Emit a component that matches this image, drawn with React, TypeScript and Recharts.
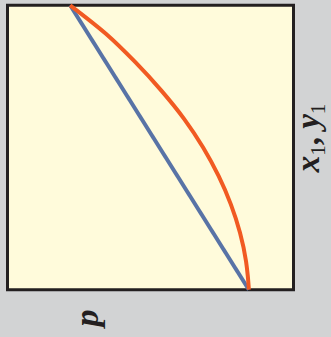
import { LineChart, Line, XAxis, YAxis, ReferenceArea, Customized } from "recharts";

// rotated p–x–y diagram: p runs right-to-left, mole fraction bottom-to-top
const bubbleX1 = [0, 1];
const bubbleP = [0.156, 0.781];

const dewY1 = [0, 0.05, 0.1, 0.2, 0.3, 0.4, 0.5, 0.6, 0.7, 0.8, 0.9, 1];
const dewP = [0.156, 0.16, 0.166, 0.187, 0.219, 0.262, 0.316, 0.382, 0.462, 0.553, 0.656, 0.781];

const bubbleData = bubbleX1.map((v, i) => ({ x1: v, p: bubbleP[i] }));
const dewData = dewY1.map((v, i) => ({ x1: v, p: dewP[i] }));

const W = 331;
const H = 337;

const labelFont = "'Liberation Serif', 'DejaVu Serif', serif";

function AxisLabels() {
  return (
    <g fill="#231f20" fontFamily={labelFont}>
      <text transform="translate(319,138) rotate(-90)" textAnchor="middle">
        <tspan fontSize={33} fontWeight="bold" fontStyle="italic">x</tspan>
        <tspan fontSize={21} dy={6}>1</tspan>
        <tspan fontSize={33} dy={-6} fontWeight="bold">, </tspan>
        <tspan fontSize={33} fontWeight="bold" fontStyle="italic">y</tspan>
        <tspan fontSize={21} dy={6}>1</tspan>
      </text>
      <text
        transform="translate(98,318) rotate(-90)"
        textAnchor="middle"
        fontSize={34}
        fontWeight="bold"
        fontStyle="italic"
      >
        p
      </text>
    </g>
  );
}

export default function App() {
  return (
    <div style={{ position: "absolute", left: 0, top: 0, width: W, height: H, background: "#d2d3d4" }}>
      <LineChart width={W} height={H} margin={{ top: 5.3, right: 37.5, left: 7.5, bottom: 47.3 }}>
        <XAxis type="number" dataKey="p" domain={[0, 1]} reversed hide />
        <YAxis type="number" dataKey="x1" domain={[0, 1]} hide />
        <ReferenceArea x1={0} x2={1} y1={0} y2={1} fill="#fffbdb" fillOpacity={1} stroke="#231f20" strokeWidth={3} />
        <Line
          data={bubbleData}
          dataKey="x1"
          type="linear"
          stroke="#5873a6"
          strokeWidth={4}
          dot={false}
          isAnimationActive={false}
        />
        <Line
          data={dewData}
          dataKey="x1"
          type="monotoneY"
          stroke="#f15a22"
          strokeWidth={4}
          dot={false}
          isAnimationActive={false}
        />
        <Customized component={AxisLabels} />
      </LineChart>
    </div>
  );
}
